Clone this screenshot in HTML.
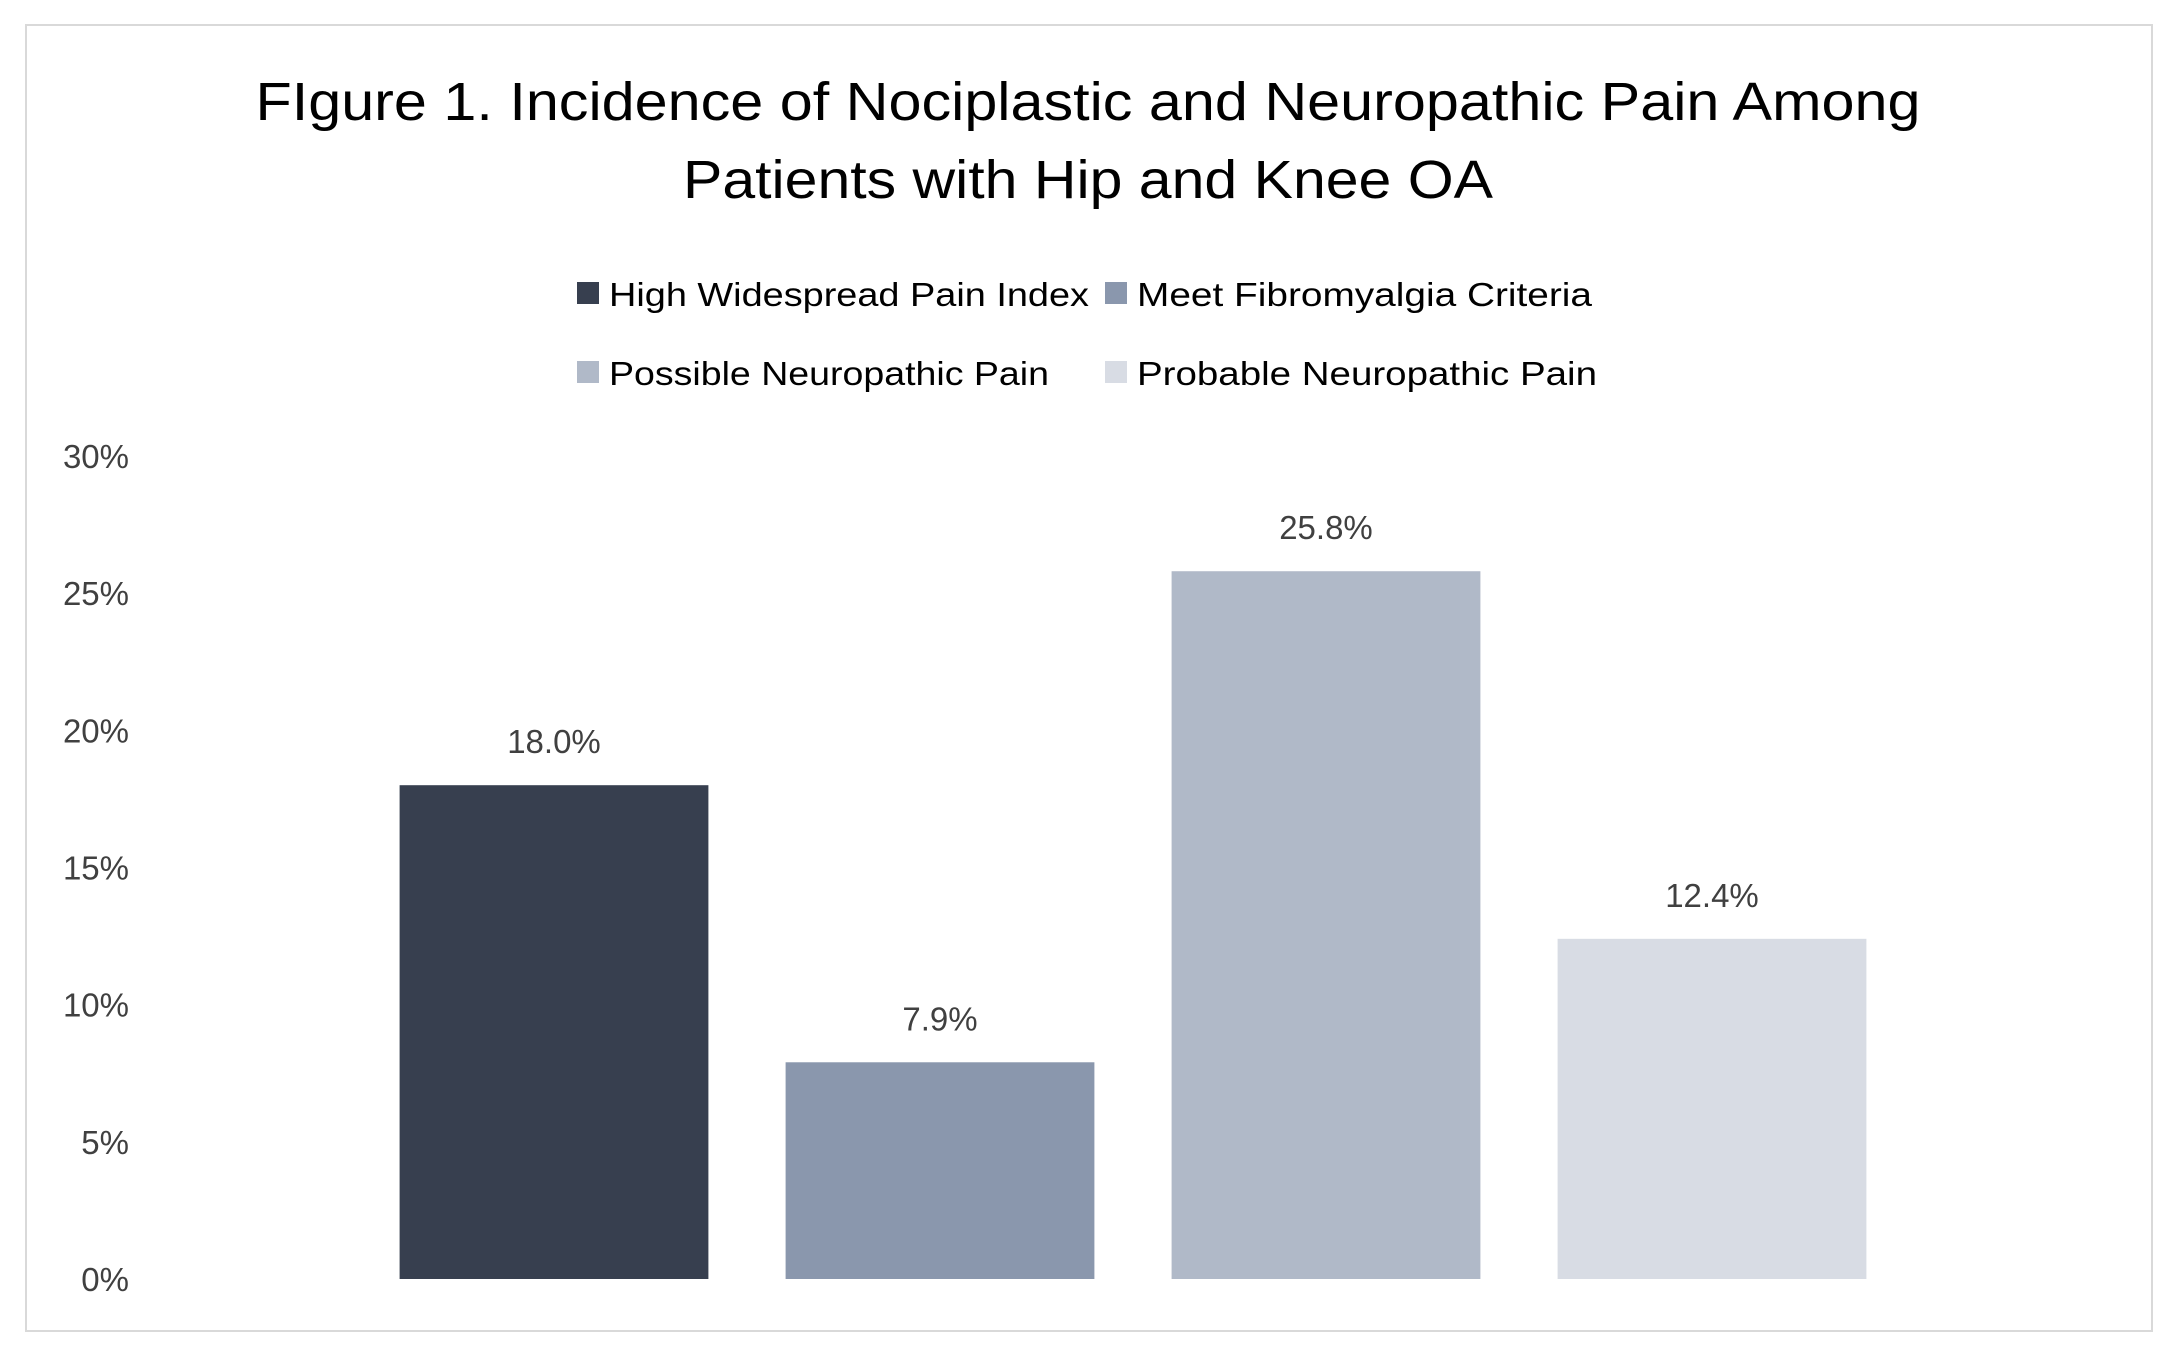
<!DOCTYPE html>
<html><head><meta charset="utf-8"><style>
html,body{margin:0;padding:0;background:#fff;}
svg{display:block;font-family:"Liberation Sans",sans-serif;}
</style></head><body>
<svg id="chart" width="2174" height="1350" viewBox="0 0 2174 1350">
<rect x="26" y="25" width="2126" height="1306" fill="#fff" stroke="#d9d9d9" stroke-width="2"/>
<text x="1088" y="120" text-anchor="middle" font-size="54" fill="#000" textLength="1665" lengthAdjust="spacingAndGlyphs">FIgure 1. Incidence of Nociplastic and Neuropathic Pain Among</text>
<text x="1088" y="198" text-anchor="middle" font-size="54" fill="#000" textLength="810" lengthAdjust="spacingAndGlyphs">Patients with Hip and Knee OA</text>
<g id="legend"></g>
<g id="yaxis"></g>
<g id="bars"></g>
</svg>
<script>
const categories = ["High Widespread Pain Index","Meet Fibromyalgia Criteria","Possible Neuropathic Pain","Probable Neuropathic Pain"];
const values = [18.0, 7.9, 25.8, 12.4];
const valueLabels = ["18.0%","7.9%","25.8%","12.4%"];
const yTicks = [0,5,10,15,20,25,30];
const yTickLabels = ["0%","5%","10%","15%","20%","25%","30%"];
const colors = ["#373f4f","#8a97ad","#b0b9c8","#d8dce4"];

const NS="http://www.w3.org/2000/svg";
const x0=361, x1=1905, yBase=1279, yTop=456, yMax=30;
const bandW=(x1-x0)/categories.length, barW=bandW*0.8;
function yScale(v){return yBase-(v/yMax)*(yBase-yTop);}
function xScale(i){return x0+i*bandW+(bandW-barW)/2;}
function mk(tag,attrs,parent){const e=document.createElementNS(NS,tag);for(const k in attrs)e.setAttribute(k,attrs[k]);parent.appendChild(e);return e;}

const yg=document.getElementById('yaxis');
yTicks.forEach((t,i)=>{
  const tx=mk('text',{x:129,y:yScale(t)+12,'text-anchor':'end','font-size':33,fill:'#404040'},yg);
  
  
  tx.textContent=yTickLabels[i];
});

const bg=document.getElementById('bars');
values.forEach((v,i)=>{
  const x=xScale(i), y=yScale(v);
  const r=mk('rect',{x:x,y:y,width:barW,height:yBase-y,fill:colors[i]},bg);
  
  
  const t=mk('text',{x:x+barW/2,y:y-32,'text-anchor':'middle','font-size':33,fill:'#404040'},bg);
  
  
  t.textContent=valueLabels[i];
});

const lg=document.getElementById('legend');
const legPos=[[577,306],[1105,306],[577,385],[1105,385]];
const legW=[480,455,440,460];
categories.forEach((c,i)=>{
  const [lx,ly]=legPos[i];
  const s=mk('rect',{x:lx,y:ly-24,width:22,height:22,fill:colors[i]},lg);
  
  
  const t=mk('text',{x:lx+32,y:ly,'font-size':33,fill:'#000',textLength:legW[i],lengthAdjust:'spacingAndGlyphs'},lg);
  
  
  t.textContent=c;
});
</script>
</body></html>
